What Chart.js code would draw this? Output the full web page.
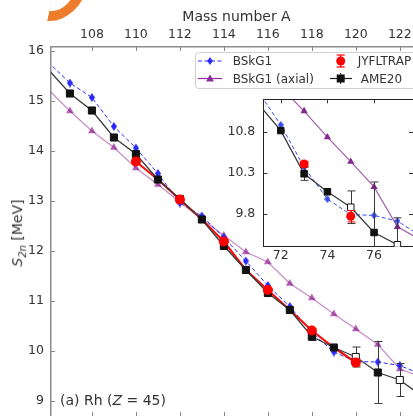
<!DOCTYPE html>
<html>
<head>
<meta charset="utf-8">
<title>S2n Rh</title>
<script src="https://cdn.jsdelivr.net/npm/chart.js@4.4.1/dist/chart.umd.min.js"></script>
<style>
  html, body { margin: 0; padding: 0; background: #fff; overflow: hidden; }
  #wrap { position: relative; width: 413px; height: 416px; overflow: hidden; font-family: "DejaVu Sans", sans-serif; color: #333; }
  canvas { position: absolute; }
  #main { left: 0; top: 0; }
  #inset { left: 220px; top: 90px; }
  .lbl { position: absolute; white-space: nowrap; line-height: 1; }
  #xTitle { left: 236.5px; top: 9px; font-size: 14px; transform: translateX(-50%); }
  #yTitle { left: 19px; top: 233px; font-size: 14px; transform: translate(-50%, -50%) rotate(-90deg); }
  #panel { left: 60px; top: 393px; font-size: 14px; }
  #legend { position: absolute; left: 195px; top: 52px; width: 240px; height: 35px; border: 1px solid #d0d0d0; border-radius: 4px; background: rgba(255,255,255,0.85); font-size: 12px; }
  #legend span { position: absolute; line-height: 1; white-space: nowrap; }
  #legend svg { position: absolute; left: 0; top: 0; }
  #blob { position: absolute; left: 47px; top: -37px; width: 22px; height: 48px; border-right: 11px solid #ee7d2b; border-bottom: 10px solid #ee7d2b; border-bottom-right-radius: 30px 34px; transform: skewX(-12deg); transform-origin: 0 100%; }
</style>
</head>
<body>
<div id="wrap">
  <div id="blob"></div>
  <canvas id="main" width="413" height="416"></canvas>
  <canvas id="inset" width="193" height="180"></canvas>
  <div class="lbl" id="xTitle">Mass number A</div>
  <div class="lbl" id="yTitle"><i>S</i><sub style="font-size:10px"><i>2n</i></sub> [MeV]</div>
  <div class="lbl" id="panel">(a) Rh (<i>Z</i> = 45)</div>
  <div id="legend">
    <svg width="240" height="35">
      <line x1="2" y1="8" x2="26" y2="8" stroke="#2a2aff" stroke-width="1.2" stroke-dasharray="4,2.5"/>
      <polygon points="14,4 16.8,8 14,12 11.2,8" fill="#2a2aff"/>
      <line x1="2" y1="25.5" x2="26" y2="25.5" stroke="#8e2c9e" stroke-width="1.2"/>
      <polygon points="14,21.5 18,28.5 10,28.5" fill="#8e2c9e"/>
      <line x1="144.7" y1="2" x2="144.7" y2="14" stroke="#ff0000" stroke-width="1.2"/>
      <line x1="140.7" y1="2" x2="148.7" y2="2" stroke="#ff0000" stroke-width="1.2"/>
      <line x1="140.7" y1="14" x2="148.7" y2="14" stroke="#ff0000" stroke-width="1.2"/>
      <circle cx="144.7" cy="8" r="4.5" fill="#ff0000"/>
      <line x1="134" y1="25.5" x2="156" y2="25.5" stroke="#222" stroke-width="1.2"/>
      <line x1="144.7" y1="20" x2="144.7" y2="31" stroke="#222" stroke-width="1"/>
      <rect x="140.7" y="21.5" width="8" height="8" fill="#111"/>
    </svg>
    <span style="left:36.7px; top:2px;">BSkG1</span>
    <span style="left:36.7px; top:19.5px;">BSkG1 (axial)</span>
    <span style="left:161.7px; top:2px;">JYFLTRAP</span>
    <span style="left:164.7px; top:19.5px;">AME20</span>
  </div>
</div>
<script>
// Rh isotopes, Z = 45
const protonNumber = 45;
const massNumbers = [106, 107, 108, 109, 110, 111, 112, 113, 114, 115, 116, 117, 118, 119, 120, 121, 122, 123];

// S2n in MeV
const bskg1 =      [15.78, 15.36, 15.07, 14.49, 14.06, 13.55, 12.96, 12.70, 12.27, 11.80, 11.31, 10.89, 10.37, 9.98, 9.79, 9.78, 9.71, 9.53];
const bskg1Axial = [15.24, 14.80, 14.40, 14.07, 13.66, 13.33, 12.98, 12.64, 12.31, 11.98, 11.78, 11.35, 11.06, 10.74, 10.44, 10.13, 9.64, 9.48];
const ame20 =      [15.64, 15.15, 14.81, 14.27, 13.94, 13.43, 13.04, 12.63, 12.10, 11.62, 11.16, 10.82, 10.29, 10.07, 9.88, 9.57, 9.42, 9.10];
const ame20Err =   [0, 0, 0, 0, 0, 0, 0, 0, 0, 0, 0.06, 0, 0.08, 0, 0.20, 0.62, 0.33, 0];
const ame20Extrapolated = [120, 122];

const jyflMass = [110, 112, 114, 116, 118, 120];
const jyflS2n =  [13.79, 13.03, 12.19, 11.22, 10.41, 9.77];
const jyflErr =  [0.02, 0.02, 0.02, 0.02, 0.03, 0.07];

const massTicks = [108, 110, 112, 114, 116, 118, 120, 122];
const s2nTicks = [9, 10, 11, 12, 13, 14, 15, 16];
const insetNTicks = [72, 74, 76];
const insetS2nTicks = [9.8, 10.3, 10.8];

const FONT = 'DejaVu Sans';

function points(xs, ys, shift) {
    return xs.map((a, i) => ({ x: a - shift, y: ys[i], a: a }));
}

// JYFLTRAP line: measured masses where available, AME20 in between
const jyflLineMass = massNumbers.filter(a => a >= jyflMass[0] && a <= jyflMass[jyflMass.length - 1]);
const jyflLineS2n = jyflLineMass.map(a => {
    const k = jyflMass.indexOf(a);
    return k >= 0 ? jyflS2n[k] : ame20[massNumbers.indexOf(a)];
});

function thinDiamond(w, h, color) {
    const c = document.createElement('canvas');
    c.width = w; c.height = h;
    const g = c.getContext('2d');
    g.fillStyle = color;
    g.beginPath();
    g.moveTo(w / 2, 0); g.lineTo(w, h / 2); g.lineTo(w / 2, h); g.lineTo(0, h / 2);
    g.closePath(); g.fill();
    return c;
}

function shown(r) {
    return ctx => {
        const s = ctx.chart.scales.x;
        const v = ctx.raw ? ctx.raw.x : NaN;
        return v >= s.min && v <= s.max ? r : 0;
    };
}

function openFill(color) {
    return ctx => (ctx.raw && ame20Extrapolated.includes(ctx.raw.a)) ? '#ffffff' : color;
}

// fixed axis box and no extra label padding, so the plot area sits where the original one does
function fixBox(size) {
    return s => {
        if (s.isHorizontal()) s.height = size; else s.width = size;
        s.paddingTop = 0; s.paddingBottom = 0; s.paddingLeft = 0; s.paddingRight = 0;
    };
}

const errorBars = {
    id: 'errorBars',
    beforeDatasetDraw(chart, args) {
        const ds = chart.data.datasets[args.index];
        if (!ds.errors) return;
        const { ctx, chartArea: area } = chart;
        const xs = chart.scales.x, ys = chart.scales.y;
        ctx.save();
        ctx.beginPath();
        ctx.rect(area.left, area.top, area.right - area.left, area.bottom - area.top);
        ctx.clip();
        ctx.strokeStyle = ds.errorColor;
        ctx.lineWidth = 1;
        ds.data.forEach((p, i) => {
            const e = ds.errors[i];
            if (!e || p.x < xs.min || p.x > xs.max) return;
            const x = Math.round(xs.getPixelForValue(p.x)) + 0.5;
            const y1 = ys.getPixelForValue(p.y + e);
            const y2 = ys.getPixelForValue(p.y - e);
            const c = ds.capHalf;
            ctx.beginPath();
            ctx.moveTo(x, y1); ctx.lineTo(x, y2);
            ctx.moveTo(x - c, y1); ctx.lineTo(x + c, y1);
            ctx.moveTo(x - c, y2); ctx.lineTo(x + c, y2);
            ctx.stroke();
        });
        ctx.restore();
    }
};

const innerTicks = {
    id: 'innerTicks',
    afterDraw(chart, args, opts) {
        const { ctx, chartArea: a } = chart;
        const xs = chart.scales.x, ys = chart.scales.y;
        const L = opts.length;
        ctx.save();
        ctx.strokeStyle = opts.color;
        ctx.lineWidth = 1;
        ctx.beginPath();
        xs.ticks.forEach(t => {
            const x = Math.round(xs.getPixelForValue(t.value)) + 0.5;
            if (opts.top) { ctx.moveTo(x, a.top); ctx.lineTo(x, a.top + L); }
            if (opts.bottom) { ctx.moveTo(x, opts.bottomY); ctx.lineTo(x, opts.bottomY - L); }
        });
        ys.ticks.forEach(t => {
            const y = Math.round(ys.getPixelForValue(t.value)) + 0.5;
            ctx.moveTo(a.left, y); ctx.lineTo(a.left + L, y);
            if (opts.right) { ctx.moveTo(a.right, y); ctx.lineTo(a.right - L, y); }
        });
        ctx.stroke();
        if (opts.frameTop) {
            ctx.strokeStyle = opts.frameColor;
            ctx.beginPath();
            ctx.moveTo(a.left, Math.round(a.top) + 0.5);
            ctx.lineTo(a.right, Math.round(a.top) + 0.5);
            ctx.stroke();
        }
        ctx.restore();
    }
};

const whiteArea = {
    id: 'whiteArea',
    beforeDraw(chart, args, opts) {
        if (!opts.on) return;
        const { ctx, chartArea: a } = chart;
        ctx.save();
        ctx.fillStyle = '#ffffff';
        ctx.fillRect(a.left, a.top, a.right - a.left, a.bottom - a.top);
        ctx.restore();
    }
};

function buildDatasets(shift, look) {
    return [
        {
            label: 'BSkG1 (axial)',
            data: points(massNumbers, bskg1Axial, shift),
            borderColor: look.purpleLine, borderWidth: 1.2,
            pointStyle: 'triangle', pointRadius: shown(look.triR),
            pointBackgroundColor: look.purple, pointBorderColor: look.purple, pointBorderWidth: 0,
            order: 6, clip: 0
        },
        {
            label: 'BSkG1',
            data: points(massNumbers, bskg1, shift),
            borderColor: look.blue, borderWidth: 1, borderDash: [4, 2.5],
            pointStyle: look.diamond, pointRadius: shown(4),
            order: 5, clip: 0
        },
        {
            label: 'JYFLTRAP line',
            data: look.redLine ? points(jyflLineMass, jyflLineS2n, shift) : [],
            borderColor: '#f01010', borderWidth: 2.2, pointRadius: 0,
            order: 4, clip: 0
        },
        {
            label: 'AME20',
            data: points(massNumbers, ame20, shift),
            errors: ame20Err, errorColor: '#3a3a3a', capHalf: 4,
            borderColor: '#3a3a3a', borderWidth: 1.3,
            pointStyle: 'rect', pointRadius: shown(look.sqR),
            pointBackgroundColor: openFill('#111111'), pointBorderColor: '#111111', pointBorderWidth: 1,
            order: 3, clip: 0
        },
        {
            label: 'JYFLTRAP',
            data: points(jyflMass, jyflS2n, shift),
            errors: jyflErr, errorColor: '#ff0000', capHalf: 4,
            showLine: false,
            pointStyle: 'circle', pointRadius: shown(look.circR),
            pointBackgroundColor: '#ff0000', pointBorderColor: '#ff0000', pointBorderWidth: 0,
            order: 2, clip: 0
        }
    ];
}

function tickFont() {
    return { family: FONT, size: 12.5 };
}

// main plot
new Chart(document.getElementById('main'), {
    type: 'line',
    data: {
        datasets: buildDatasets(0, {
            purple: 'rgba(128,0,128,0.6)', purpleLine: 'rgba(128,0,128,0.45)', triR: 4.5,
            blue: '#2a2aff', diamond: thinDiamond(6, 9, '#2a2aff'),
            sqR: 5, circR: 5, redLine: true
        })
    },
    options: {
        responsive: false,
        animation: false,
        events: [],
        layout: { padding: 0, autoPadding: false },
        plugins: {
            legend: { display: false },
            tooltip: { enabled: false },
            innerTicks: { length: 4, color: '#888', top: true, bottom: true, bottomY: 416 },
            whiteArea: { on: false }
        },
        scales: {
            x: {
                type: 'linear', position: 'top',
                min: 106.14, max: 122.6,
                afterBuildTicks: s => { s.ticks = massTicks.map(v => ({ value: v })); },
                afterFit: fixBox(47),
                grid: { display: false, drawTicks: false },
                border: { display: true, color: '#8c8c8c', width: 1.5 },
                ticks: { padding: 5, color: '#333', font: tickFont(), maxRotation: 0, autoSkip: false }
            },
            y: {
                type: 'linear',
                min: 8.7, max: 16.08,
                afterBuildTicks: s => { s.ticks = s2nTicks.map(v => ({ value: v })); },
                afterFit: fixBox(51),
                grid: { display: false, drawTicks: false },
                border: { display: true, color: '#8c8c8c', width: 1.5 },
                ticks: { padding: 7, color: '#333', font: tickFont(), autoSkip: false }
            }
        }
    },
    plugins: [whiteArea, errorBars, innerTicks]
});

// inset, plotted against neutron number N = A - Z
new Chart(document.getElementById('inset'), {
    type: 'line',
    data: {
        datasets: buildDatasets(protonNumber, {
            purple: '#852890', purpleLine: 'rgba(133,40,144,0.75)', triR: 4.2,
            blue: '#3b4bef', diamond: thinDiamond(6, 8, '#3b4bef'),
            sqR: 4.6, circR: 4.5, redLine: false
        })
    },
    options: {
        responsive: false,
        animation: false,
        events: [],
        layout: { padding: { top: 9.3, left: 0, right: 0, bottom: 0 }, autoPadding: false },
        plugins: {
            legend: { display: false },
            tooltip: { enabled: false },
            innerTicks: { length: 4, color: '#333', top: true, right: true, frameTop: true, frameColor: '#222', bottom: false },
            whiteArea: { on: true }
        },
        scales: {
            x: {
                type: 'linear', position: 'bottom',
                min: 71.25, max: 77.67,
                afterBuildTicks: s => { s.ticks = insetNTicks.map(v => ({ value: v })); },
                afterFit: fixBox(23.3),
                grid: { display: false, drawTicks: false },
                border: { display: true, color: '#222', width: 1 },
                ticks: { padding: 2, color: '#333', font: tickFont(), maxRotation: 0, autoSkip: false }
            },
            y: {
                type: 'linear',
                min: 9.396, max: 11.204,
                afterBuildTicks: s => { s.ticks = insetS2nTicks.map(v => ({ value: v })); },
                afterFit: fixBox(43.3),
                grid: { display: false, drawTicks: false },
                border: { display: true, color: '#222', width: 1 },
                ticks: { padding: 8, color: '#333', font: tickFont(), autoSkip: false,
                         callback: v => v.toFixed(1) }
            }
        }
    },
    plugins: [whiteArea, errorBars, innerTicks]
});
</script>
</body>
</html>
